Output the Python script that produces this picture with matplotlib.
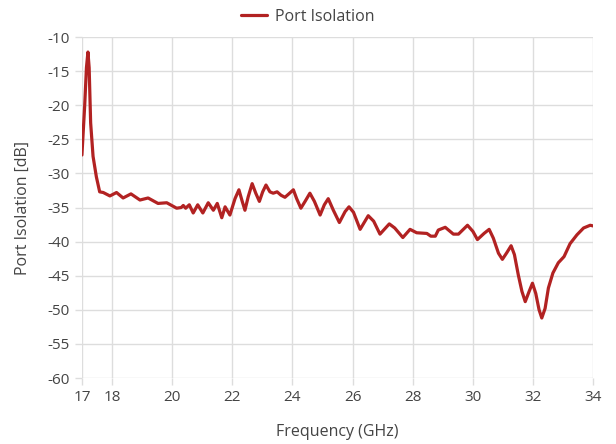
import matplotlib
matplotlib.use("Agg")
import matplotlib.pyplot as plt

plt.rcParams['font.family'] = ['Open Sans', 'DejaVu Sans']
plt.rcParams['axes.unicode_minus'] = False

# Port isolation curve (GHz, dB)
freq = [17.0, 17.09, 17.15, 17.2, 17.24, 17.29, 17.37, 17.48, 17.59, 17.71, 17.93, 18.15, 18.37,
        18.63, 18.93, 19.2, 19.53, 19.82, 20.15, 20.3, 20.37, 20.45, 20.57, 20.7, 20.85,
        21.02, 21.2, 21.37, 21.5, 21.65, 21.76, 21.92, 22.09, 22.22, 22.33, 22.42, 22.53,
        22.66, 22.78, 22.9, 23.01, 23.12, 23.25, 23.36, 23.49, 23.62, 23.75, 23.88, 24.03,
        24.14, 24.28, 24.42, 24.58, 24.73, 24.92, 25.06, 25.19, 25.36, 25.56, 25.75, 25.88,
        26.03, 26.25, 26.52, 26.7, 26.91, 27.22, 27.4, 27.67, 27.91, 28.13, 28.47, 28.6,
        28.75, 28.85, 29.08, 29.35, 29.52, 29.82, 30.0, 30.15, 30.37, 30.54, 30.68, 30.85,
        30.98, 31.13, 31.27, 31.38, 31.51, 31.63, 31.74, 31.87, 31.98, 32.09, 32.2, 32.29,
        32.4, 32.51, 32.66, 32.84, 33.03, 33.23, 33.46, 33.68, 33.9, 34.0]
isolation = [-27.3, -20.2, -14.5, -12.2, -14.5, -22.6, -27.5, -30.5, -32.7, -32.8, -33.3, -32.8, -33.6,
             -33.0, -33.9, -33.6, -34.4, -34.3, -35.1, -35.0, -34.7, -35.1, -34.6, -35.8, -34.6,
             -35.8, -34.3, -35.4, -34.4, -36.5, -34.9, -36.1, -33.7, -32.4, -34.1, -35.4, -33.4,
             -31.5, -32.9, -34.1, -32.7, -31.7, -32.7, -32.9, -32.7, -33.2, -33.5, -33.0, -32.4,
             -33.7, -35.1, -34.1, -32.9, -34.1, -36.1, -34.6, -33.7, -35.4, -37.2, -35.6, -34.9,
             -35.7, -38.2, -36.2, -37.0, -38.9, -37.4, -38.0, -39.4, -38.2, -38.7, -38.8, -39.2,
             -39.2, -38.3, -37.9, -38.9, -38.9, -37.6, -38.5, -39.7, -38.8, -38.2, -39.5, -41.7,
             -42.6, -41.6, -40.6, -41.9, -44.9, -47.3, -48.8, -47.3, -46.1, -47.6, -50.0, -51.2,
             -49.8, -46.8, -44.6, -43.1, -42.2, -40.3, -39.0, -38.0, -37.6, -37.7]

xticks = [17, 18, 20, 22, 24, 26, 28, 30, 32, 34]
yticks = list(range(-60, -9, 5))

fig = plt.figure(figsize=(6.16, 4.44), dpi=100)
ax = fig.add_axes([0.133, 0.1486, 0.830, 0.768])

ax.plot(freq, isolation, color='#b22222', linewidth=2.3, label='Port Isolation',
        solid_joinstyle='round', solid_capstyle='round')

ax.set_xlim(17, 34)
ax.set_ylim(-60, -10)
ax.set_xticks(xticks)
ax.set_yticks(yticks)
ax.grid(True, color='#dddddd', linewidth=1.0)
ax.set_axisbelow(True)
for s in ax.spines.values():
    s.set_visible(False)
ax.tick_params(colors='#dddddd', labelcolor='#444444', labelsize=11, length=5, width=1.0)

ax.set_xlabel('Frequency (GHz)', fontsize=11.5, color='#444444', labelpad=14)
ax.set_ylabel('Port Isolation [dB]', fontsize=11.5, color='#444444', labelpad=12)

fig.legend(loc='upper center', bbox_to_anchor=(0.5, 1.012), frameon=False,
           fontsize=11.5, labelcolor='#444444', handlelength=1.6, handletextpad=0.5)

fig.savefig('out.png', dpi=100)
